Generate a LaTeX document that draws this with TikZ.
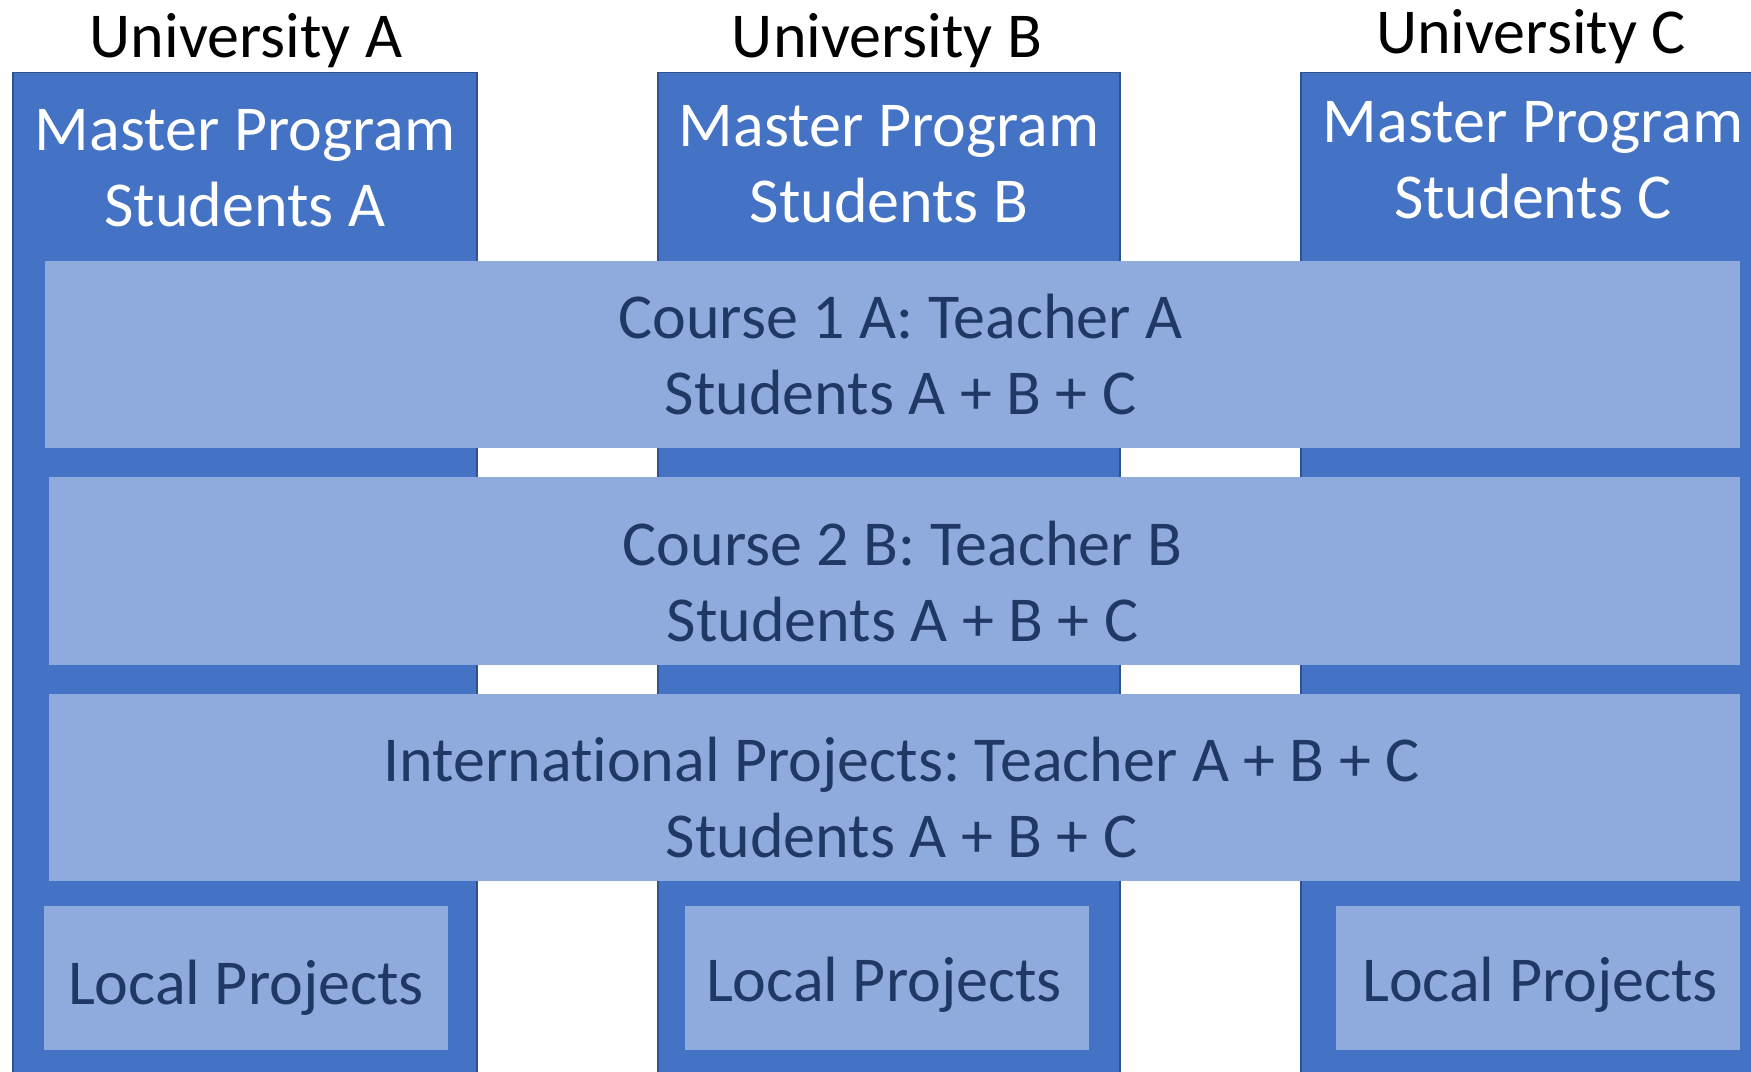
\documentclass[tikz,border=0pt]{standalone}
\usepackage{fontspec}
\setmainfont{Carlito}[Ligatures=NoCommon]
\usetikzlibrary{positioning}
\frenchspacing
\definecolor{uniblue}{HTML}{4472C4}
\definecolor{uniedge}{HTML}{2F528F}
\definecolor{courselight}{HTML}{8FAADC}
\definecolor{coursetext}{HTML}{203864}
\tikzstyle{uni} = [rectangle, fill=uniblue, draw=uniedge, line width=.6pt, minimum width=232pt, minimum height=514pt, inner sep=0pt, anchor=north]
\tikzstyle{uniname} = [inner sep=0pt, anchor=base, font=\fontsize{32}{38}\selectfont]
\tikzstyle{master} = [inner sep=0pt, text=white, align=center, font=\fontsize{32}{38}\selectfont]
\tikzstyle{band} = [rectangle, fill=courselight, inner sep=0pt]
\tikzstyle{bandtext} = [inner sep=0pt, text=coursetext, align=center, font=\fontsize{32}{38}\selectfont]
\newcommand{\allstudents}{Students A + B + C}

\begin{document}
\begin{tikzpicture}[x=.5pt, y=-.5pt]
			\useasboundingbox (0,0) rectangle (1751,1071);
			\clip (0,0) rectangle (1751,1071);
			\node [uni] (colA) at (245,72) {};
			\node [uni, minimum width=231pt] (colB) at (889,72) {};
			\node [uni] (colC) at (1533,72) {};
			\node [uniname] (nameA) at (246,57) {University A};
			\node [uniname] (nameB) at (887,57) {University B};
			\node [uniname] (nameC) at (1531,53) {University C};
			\node [master, below=18.5pt of colA.north] (mastA) {Master Program\\Students A};
			\node [master, below=16.5pt of colB.north] (mastB) {Master Program\\Students B};
			\node [master, below=14.5pt of colC.north] (mastC) {Master Program\\Students C};
			\node [band, minimum width=847.5pt, minimum height=93.5pt] (course1) at (892.5,354.5) {};
			\node [band, minimum width=845.5pt, minimum height=94pt] (course2) at (894.5,571) {};
			\node [band, minimum width=845.5pt, minimum height=93.5pt] (intl) at (894.5,787.5) {};
			\node [band, minimum width=202pt, minimum height=72pt] (localA) at (246,978) {};
			\node [band, minimum width=202pt, minimum height=72pt] (localB) at (887,978) {};
			\node [band, minimum width=202pt, minimum height=72pt] (localC) at (1538,978) {};
			\node [bandtext] (course1text) at ([xshift=4pt]course1.center) {Course 1 A: Teacher A\\\allstudents};
			\node [bandtext] (course2text) at ([xshift=4pt, yshift=-5.5pt]course2.center) {Course 2 B: Teacher B\\\allstudents};
			\node [bandtext] (intltext) at ([xshift=3.5pt, yshift=-5pt]intl.center) {International Projects: Teacher A + B + C\\\allstudents};
			\node [bandtext, anchor=base] (localAtext) at (246,1004) {Local Projects};
			\node [bandtext, anchor=base] (localBtext) at (884,1001) {Local Projects};
			\node [bandtext, anchor=base] (localCtext) at (1540,1001) {Local Projects};
		\end{tikzpicture}
\end{document}
